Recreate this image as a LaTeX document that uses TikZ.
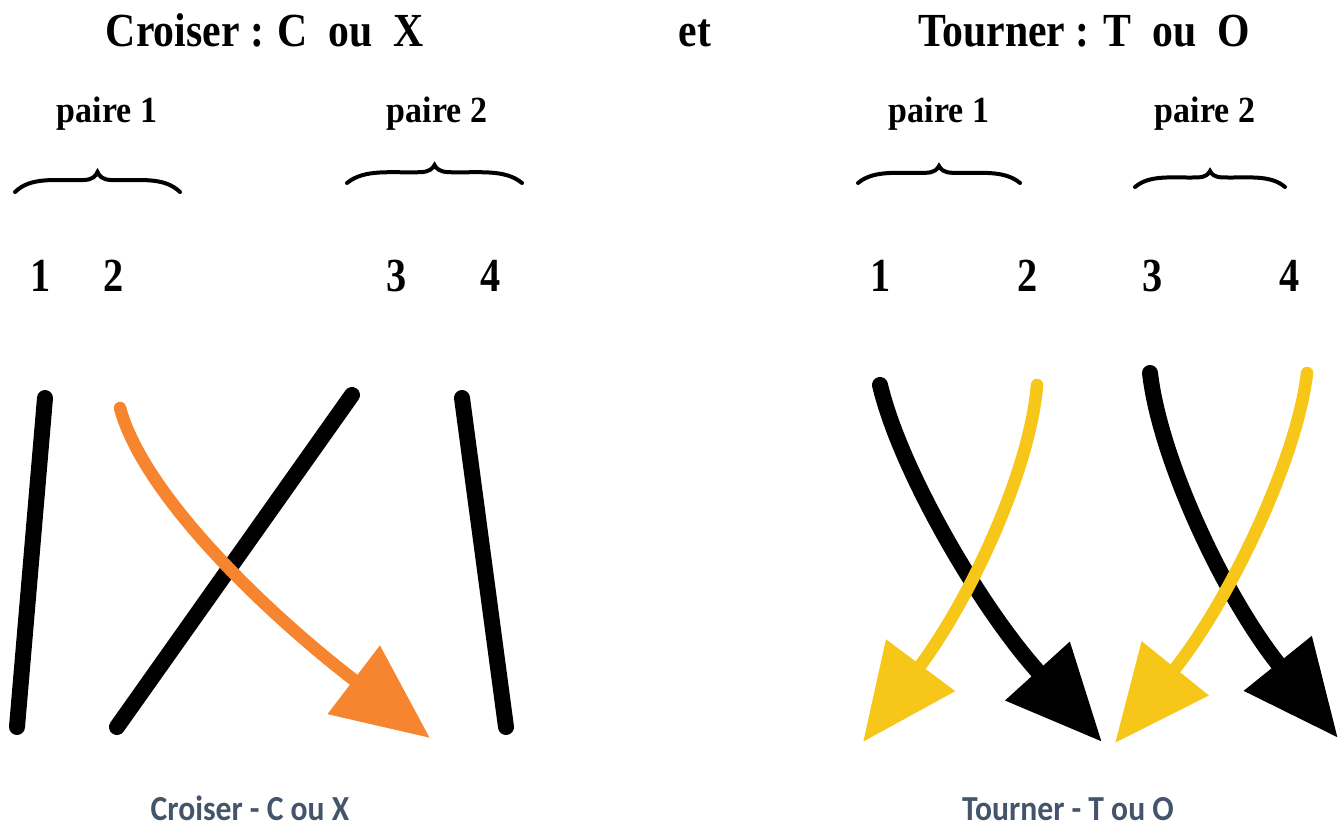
\documentclass[tikz,border=0pt]{standalone}
\usepackage{graphicx}
\usepackage{fontspec}
\setmainfont{Liberation Serif}
\newfontfamily\calfont{Carlito}
\usetikzlibrary{arrows.meta}
\definecolor{strandorange}{HTML}{F7842E}
\definecolor{strandyellow}{HTML}{F6C619}
\definecolor{captiongray}{HTML}{44546A}
\newcommand{\squeeze}[2]{\scalebox{#1}[1]{#2}}

\begin{document}
\begin{tikzpicture}[x=0.02cm,y=-0.02cm,
    strand/.style={line width=0.32cm,line cap=round},
    thinstrand/.style={line width=0.25cm,line cap=round},
    bigtip/.style={-{Triangle[length=1.92cm,width=1.66cm]}},
    bracket/.style={line width=0.08cm,line cap=round},
    titletext/.style={font=\fontsize{27}{31}\selectfont\bfseries,anchor=base},
    pairtext/.style={font=\fontsize{21}{25}\selectfont\bfseries,anchor=base},
    numtext/.style={font=\fontsize{27}{31}\selectfont\bfseries,anchor=base},
    captiontext/.style={font=\calfont\fontsize{20}{24}\selectfont\bfseries,text=captiongray,anchor=base}]
        % Page
        \useasboundingbox (0,0) rectangle (1341,827);

        % Titles
        \node[titletext] (tcross) at (265,47) {\squeeze{0.88}{Croiser : C \ ou \ X}};
        \node[titletext] (tet) at (695,47) {\squeeze{0.88}{et}};
        \node[titletext] (tturn) at (1084,47) {\squeeze{0.88}{Tourner : T \ ou \ O}};

        % Pair labels
        \foreach \name/\x/\n in {pl1/107/1, pl2/437/2, pr1/939/1, pr2/1205/2} {
            \node[pairtext] (\name) at (\x,123) {\squeeze{0.92}{paire \n}};
        }

        % Curly brackets over each pair
        \foreach \bx/\by/\bw/\bh in {15/192/165/20, 347/183/175/18, 858/183/162/17, 1135/187/150/16} {
            \draw[bracket] (\bx,\by)
                .. controls (\bx+0.1*\bw,\by-0.8*\bh) and (\bx+0.25*\bw,\by-0.55*\bh) .. (\bx+0.42*\bw,\by-0.6*\bh)
                .. controls (\bx+0.47*\bw,\by-0.62*\bh) and (\bx+0.49*\bw,\by-0.8*\bh) .. (\bx+0.5*\bw,\by-\bh)
                .. controls (\bx+0.51*\bw,\by-0.8*\bh) and (\bx+0.53*\bw,\by-0.62*\bh) .. (\bx+0.58*\bw,\by-0.6*\bh)
                .. controls (\bx+0.75*\bw,\by-0.55*\bh) and (\bx+0.9*\bw,\by-0.8*\bh) .. (\bx+\bw,\by);
        }

        % Strand numbers
        \foreach \name/\x/\n in {nl1/41/1, nl2/114/2, nl3/397/3, nl4/491/4, nr1/881/1, nr2/1028/2, nr3/1153/3, nr4/1290/4} {
            \node[numtext] (\name) at (\x,292) {\squeeze{0.85}{\n}};
        }

        % Croiser: strand ends
        \coordinate (s1a) at (45,398);  \coordinate (s1b) at (17,727);
        \coordinate (sxa) at (352,395); \coordinate (sxb) at (117,727);
        \coordinate (s4a) at (462,398); \coordinate (s4b) at (506,727);
        \coordinate (oa) at (120,408);  \coordinate (ob) at (430,738);

        \draw[strand] (s1a) -- (s1b);
        \draw[strand] (sxa) -- (sxb);
        \draw[strand] (s4a) -- (s4b);
        \draw[thinstrand,strandorange,bigtip] (oa) .. controls (145,500) and (278,622) .. (ob);

        % Tourner: strand ends
        \coordinate (b1a) at (880,385);  \coordinate (b1b) at (1102,742);
        \coordinate (y1a) at (1037,385); \coordinate (y1b) at (863,742);
        \coordinate (b2a) at (1150,373); \coordinate (b2b) at (1338,738);
        \coordinate (y2a) at (1307,373); \coordinate (y2b) at (1115,743);

        \draw[strand,bigtip] (b1a) .. controls (900,470) and (981,609) .. (b1b);
        \draw[thinstrand,strandyellow,bigtip] (y1a) .. controls (1030,470) and (971,598) .. (y1b);
        \draw[strand,bigtip] (b2a) .. controls (1160,460) and (1225,598) .. (b2b);
        \draw[thinstrand,strandyellow,bigtip] (y2a) .. controls (1297,460) and (1228,603) .. (y2b);

        % Captions
        \node[captiontext] (ccross) at (250,820) {\squeeze{0.9}{Croiser - C ou X}};
        \node[captiontext] (cturn) at (1068,820) {\squeeze{0.9}{Tourner - T ou O}};

\end{tikzpicture}
\end{document}
